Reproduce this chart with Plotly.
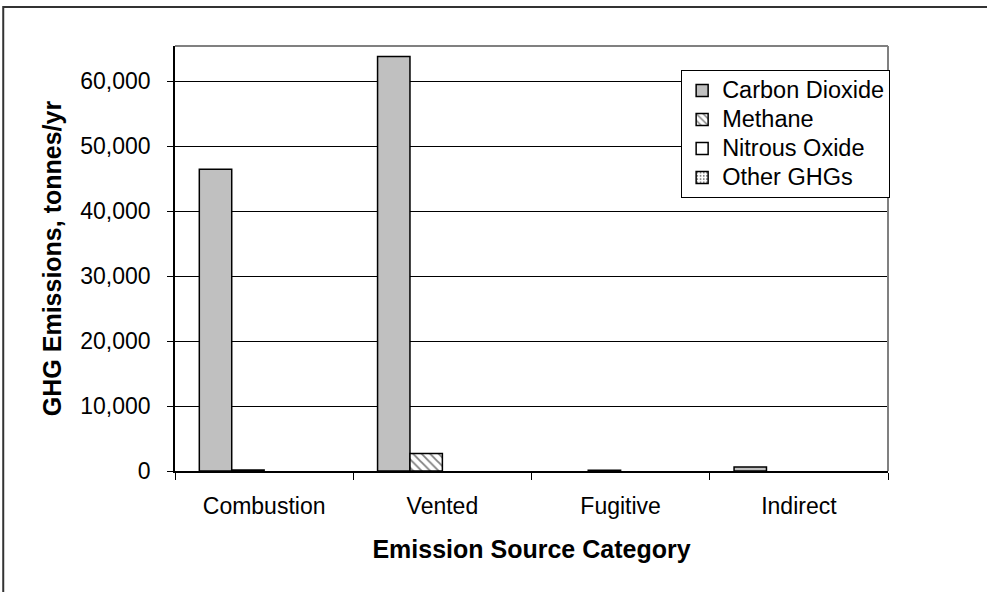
import plotly.graph_objects as go

categories = ["Combustion", "Vented", "Fugitive", "Indirect"]
carbon_dioxide = [46450, 63800, 0, 600]
methane = [150, 2700, 100, 0]
nitrous_oxide = [0, 0, 0, 0]
other_ghgs = [0, 0, 0, 0]

series_names = ["Carbon Dioxide", "Methane", "Nitrous Oxide", "Other GHGs"]
y_ticks = [0, 10000, 20000, 30000, 40000, 50000, 60000]

FONT = "Liberation Sans, Arial, sans-serif"
OUTLINE = dict(color="black", width=1.5)


def drawn(values):
    # empty categories get no bar at all (no zero-height outline)
    return [v if v else None for v in values]


def legend_label(name):
    # larger glyphs than the legend's own font keeps the rows tight
    return f'<span style="font-size:23.5px">{name}</span>'


styles = [
    dict(color="#C0C0C0", line=OUTLINE),
    dict(color="white", line=OUTLINE,
         pattern=dict(shape="\\", fgcolor="black", bgcolor="white",
                      size=6, solidity=0.3)),
    dict(color="white", line=OUTLINE),
    dict(color="white", line=OUTLINE,
         pattern=dict(shape=".", fgcolor="black", bgcolor="white",
                      size=4, solidity=0.25)),
]
series = [carbon_dioxide, methane, nitrous_oxide, other_ghgs]

fig = go.Figure()
for name, values, marker in zip(series_names, series, styles):
    fig.add_trace(go.Bar(name=legend_label(name), x=categories,
                         y=drawn(values), marker=marker))

fig.update_layout(
    width=987, height=592,
    margin=dict(l=175, r=99, t=46, b=121),
    paper_bgcolor="white", plot_bgcolor="white",
    barmode="group", bargap=1.5 / 5.5, bargroupgap=0,
    font=dict(family=FONT, size=23, color="black"),
    showlegend=True,
    legend=dict(
        x=1.003, xanchor="right", y=0.9435, yanchor="top",
        bgcolor="white", bordercolor="black", borderwidth=1,
        font=dict(family=FONT, size=20, color="black"),
        tracegroupgap=0,
    ),
    xaxis=dict(
        type="category", tickson="boundaries",
        ticks="outside", ticklen=7, tickwidth=1, tickcolor="black",
        showline=True, linecolor="black", linewidth=1.5,
        showgrid=False, mirror=False,
        tickfont=dict(family=FONT, size=23),
        ticklabelstandoff=14,
        title=dict(text="<b>Emission Source Category</b>",
                   font=dict(family=FONT, size=25), standoff=22),
    ),
    yaxis=dict(
        range=[0, 65400], tickvals=y_ticks, tickformat=",d",
        ticks="outside", ticklen=6, tickwidth=1, tickcolor="black",
        showline=True, linecolor="black", linewidth=1.5,
        showgrid=True, gridcolor="black", gridwidth=1,
        zeroline=False,
        tickfont=dict(family=FONT, size=23),
        ticklabelstandoff=12,
        title=dict(text="<b>GHG Emissions, tonnes/yr</b>",
                   font=dict(family=FONT, size=25), standoff=12),
    ),
    shapes=[
        # plot-area frame (top and right edges)
        dict(type="line", xref="paper", yref="paper", x0=0, x1=1, y0=1, y1=1,
             line=dict(color="#808080", width=2)),
        dict(type="line", xref="paper", yref="paper", x0=1, x1=1, y0=0, y1=1,
             line=dict(color="#808080", width=2)),
        # chart-area border
        dict(type="rect", xref="paper", yref="paper",
             x0=-0.2409, x1=1.25, y0=-0.32, y1=1.0918,
             line=dict(color="#333333", width=2), layer="below"),
    ],
)

fig.write_html("out.html")
